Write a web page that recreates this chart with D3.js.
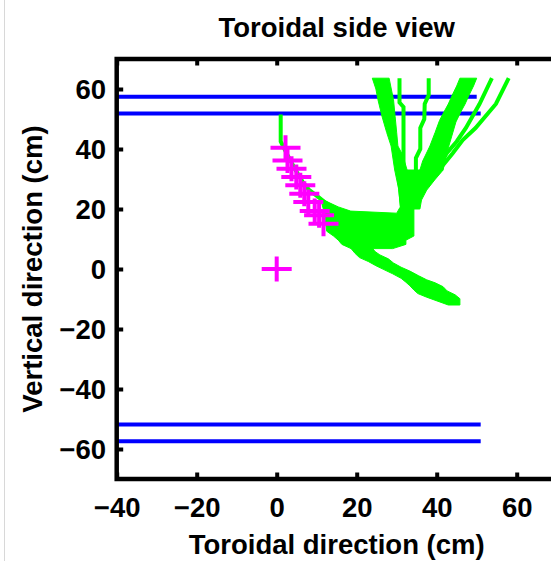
<!DOCTYPE html>
<html>
<head>
<meta charset="utf-8">
<script src="https://cdn.jsdelivr.net/npm/d3@7"></script>
<style>
  body { margin: 0; background: #fff; }
  text { font-family: "Liberation Sans", Arial, sans-serif; font-weight: bold; fill: #000; }
</style>
</head>
<body>
<div id="chart"></div>
<script>
const width = 551;
const height = 561;

const xTicks = [-40, -20, 0, 20, 40, 60];
const yTicks = [-60, -40, -20, 0, 20, 40, 60];

// blue wall lines (cm): level and right end
const wallLevels = [57.4, 51.8, -51.8, -57.4];
const wallEnds = [50, 51, 51, 51];

// magenta markers
const markerX = [0, 2.2, 2.7, 3.7, 4.9, 5.9, 6.9, 7.9, 9.5, 10.6, 11.7];
const markerY = [0, 40.4, 36.2, 33.4, 30.7, 27.9, 25.1, 22.3, 19.3, 17.9, 15.1];

// green orbits, thin ones as lines
const entryPath = [[1, 51.5], [1, 42.5], [2.5, 38.5], [4.5, 33.5], [6.5, 29], [8, 26.5], [10.6, 23.8], [12.3, 22], [15, 20]];
const strandB = [[30.7, 63.6], [30.7, 55.5], [31.7, 54], [31.7, 33]];
const strandC = [[38, 63.6], [38, 58], [37, 55], [36.9, 50], [35.9, 47], [35.9, 40], [34.8, 37], [34.8, 30], [34, 24]];
const strandE = [[53.8, 63.6], [50.7, 55], [47.3, 47], [45, 42.5], [42.5, 38.6], [40.5, 34], [38.5, 30]];
const strandF = [[58, 63.6], [54.8, 55], [49.7, 47], [46.5, 43], [44, 38.6], [41.5, 34.5], [39.5, 31]];

// green orbits, thick bundles as outlines
const bandA = [[23.9, 63.6], [24.8, 60], [25.3, 56.5], [26.3, 51], [27.5, 45.5], [28.6, 41], [29.5, 33], [30.5, 26.6], [31, 19.5],
  [34, 19.5], [33.8, 24], [33.3, 28], [32.6, 33], [31.5, 38], [30.3, 41], [30, 45.4], [29.6, 50.9], [29.2, 56.5], [28.8, 59], [28.1, 63.6]];
const bandD = [[45.8, 63.6], [45, 61], [43.9, 58], [42.9, 55], [41.8, 52.3], [40.7, 49.5], [39.6, 45.5], [38.3, 41], [36.5, 36], [35.8, 33],
  [41.6, 33], [42.5, 38.6], [43.7, 44], [44.8, 49], [46, 52.3], [47.1, 55], [48.1, 58], [49.2, 61], [50, 63.6]];
const mergeZone = [[30, 33], [41.6, 33], [39.5, 29.7], [37.5, 26.3], [36.2, 23], [35.8, 20], [31, 20], [30.5, 26.6]];
const bowl = [[11, 23.5], [13.3, 22], [15.4, 20.7], [18.5, 19.3], [30, 18.6], [30.8, 20.5], [34.3, 20.5], [34.3, 11], [32.3, 9.6],
  [32.3, 8.2], [29, 6.8], [18.6, 6.8], [16.3, 8.2], [15.4, 9.6], [14.2, 11], [12.5, 12.6], [12, 18]];
const tail = [[18.6, 7.3], [23.7, 7.3], [24.6, 5.8], [25.8, 4.7], [27.9, 3.4], [29.2, 2], [31.1, 0.6], [33.3, -0.7], [35.4, -2.2], [37.5, -3.6],
  [39.6, -4.6], [41.6, -5.9], [42.6, -7.3], [44.6, -8.6], [45.8, -9.9], [45.8, -12], [42.9, -12], [37.5, -9.4], [35.3, -8.2],
  [34.3, -7], [33.3, -5.6], [32.3, -4.4], [31.1, -3.1], [29, -1.6], [26.8, -0.2], [24.8, 1.1], [22.9, 2.5], [20.7, 3.8], [19.6, 5.2], [18.6, 6.8]];

const x = d3.scaleLinear().domain([-40, 70]).range([116.7, 556.7]);
const y = d3.scaleLinear().domain([-70, 70]).range([479, 59]);

const svg = d3.select("#chart").append("svg")
    .attr("width", width)
    .attr("height", height)
    .style("display", "block");

svg.append("rect").attr("width", width).attr("height", height).attr("fill", "#fff");
svg.append("line")
    .attr("x1", 4.5).attr("x2", 4.5).attr("y1", 0).attr("y2", height)
    .attr("stroke", "#d8d8d8").attr("stroke-width", 1);

const line = d3.line().x(d => x(d[0])).y(d => y(d[1]));

// walls
svg.append("g").selectAll("line")
    .data(wallLevels)
    .join("line")
    .attr("x1", x(-40))
    .attr("x2", (d, i) => x(wallEnds[i]))
    .attr("y1", d => y(d))
    .attr("y2", d => y(d))
    .attr("stroke", "#0000ff")
    .attr("stroke-width", 4);

// orbits
const green = svg.append("g");
green.selectAll("path.band")
    .data([bowl, tail, mergeZone, bandA, bandD])
    .join("path")
    .attr("class", "band")
    .attr("d", d => line(d) + "Z")
    .attr("fill", "#00ff00")
    .attr("stroke", "#00ff00")
    .attr("stroke-width", 1);
green.selectAll("path.strand")
    .data([entryPath, strandB, strandC, strandE, strandF])
    .join("path")
    .attr("class", "strand")
    .attr("d", line)
    .attr("fill", "none")
    .attr("stroke", "#00ff00")
    .attr("stroke-width", 4);

// markers
svg.append("g").selectAll("path")
    .data(markerX.map((d, i) => [d, markerY[i]]))
    .join("path")
    .attr("transform", d => `translate(${x(d[0])},${y(d[1])})`)
    .attr("d", "M-15,0H15M0,-12.5V12.5")
    .attr("fill", "none")
    .attr("stroke", "#ff00ff")
    .attr("stroke-width", 4);

// frame and axes
svg.append("rect")
    .attr("x", x(-40)).attr("y", y(70))
    .attr("width", x(70) - x(-40)).attr("height", y(-70) - y(70))
    .attr("fill", "none")
    .attr("stroke", "#000")
    .attr("stroke-width", 4.5);

function styleAxis(g) {
    g.select(".domain").remove();
    g.selectAll(".tick line").attr("stroke", "#000").attr("stroke-width", 4);
    g.selectAll(".tick text").style("font-size", "27.5px");
}

svg.append("g")
    .attr("transform", `translate(0,${y(-70)})`)
    .call(d3.axisBottom(x).tickValues(xTicks).tickSizeInner(-6.5).tickSizeOuter(0).tickPadding(18.5))
    .call(styleAxis);
svg.append("g")
    .attr("transform", `translate(0,${y(70)})`)
    .call(d3.axisTop(x).tickValues(xTicks).tickSizeInner(-6.5).tickSizeOuter(0).tickFormat(""))
    .call(styleAxis);
svg.append("g")
    .attr("transform", `translate(${x(-40)},0)`)
    .call(d3.axisLeft(y).tickValues(yTicks).tickSizeInner(-6.5).tickSizeOuter(0).tickPadding(10.7))
    .call(styleAxis)
    .selectAll(".tick text").attr("dy", "0.36em");

svg.append("text")
    .attr("x", (x(-40) + x(70)) / 2)
    .attr("y", 37)
    .attr("text-anchor", "middle")
    .style("font-size", "27.5px")
    .text("Toroidal side view");

svg.append("text")
    .attr("x", (x(-40) + x(70)) / 2)
    .attr("y", 554)
    .attr("text-anchor", "middle")
    .style("font-size", "27.5px")
    .text("Toroidal direction (cm)");

svg.append("text")
    .attr("transform", `translate(41.5,${y(0)}) rotate(-90)`)
    .attr("text-anchor", "middle")
    .style("font-size", "27.5px")
    .text("Vertical direction (cm)");
</script>
</body>
</html>
